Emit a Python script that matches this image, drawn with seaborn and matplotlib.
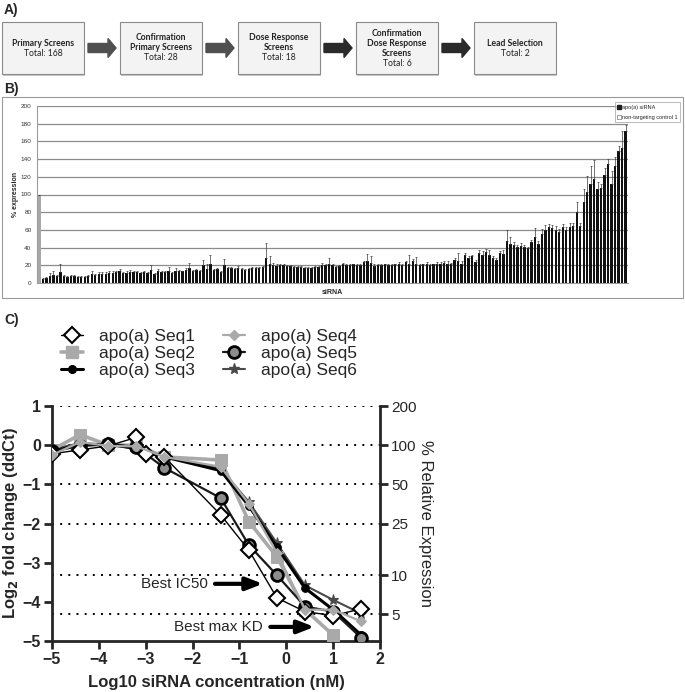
import numpy as np
import pandas as pd
import matplotlib
matplotlib.use('Agg')
import matplotlib.pyplot as plt
import seaborn as sns
from matplotlib.patches import Rectangle, FancyArrow
from matplotlib.lines import Line2D

# ---- panel A: screening funnel
stages = ['Primary Screens', 'Confirmation\nPrimary Screens', 'Dose Response\nScreens',
          'Confirmation\nDose Response\nScreens', 'Lead Selection']
stage_totals = [168, 28, 18, 6, 2]

# ---- panel B: primary screen, % expression
control_value = 100
sirna_values = [5, 6, 8, 9, 8, 12, 8, 7, 8, 8, 7, 7, 7, 8, 10, 9, 10, 10, 10, 11,
                11, 12, 13, 11, 11, 12, 12, 12, 11, 12, 11, 15, 10, 13, 12, 12, 14, 11, 14, 14,
                13, 15, 17, 14, 15, 13, 20, 16, 22, 15, 16, 12, 20, 17, 17, 16, 17, 16, 15, 16,
                17, 17, 17, 18,
                28, 22, 20, 19, 20, 20, 19, 19, 18, 18, 18, 17, 17, 17, 18, 18, 20, 20, 22, 20,
                18, 19,
                21, 20, 20, 21, 20, 20, 24, 25, 23, 19, 20, 20, 21, 20, 20, 21, 22, 20, 24, 21,
                25, 22, 20, 21, 22, 20, 21, 22, 22, 23, 22, 21, 26, 25, 22, 32, 28, 30, 24, 34,
                32, 35, 32, 28, 26, 34, 33,
                47, 44, 43, 41, 42, 41, 39, 46, 52, 44, 55, 60, 63, 62, 60, 58, 63, 60, 63, 64,
                80, 64, 92, 103, 112, 117, 106, 107, 122, 134, 112, 132, 149, 152, 172]
sirna_errors = [1, 1, 3, 4, 1, 9, 1, 1, 1, 1, 1, 1, 1, 1, 3, 1, 2, 2, 2, 2,
                2, 2, 3, 1, 2, 3, 2, 2, 1, 2, 1, 5, 1, 3, 1, 1, 4, 1, 3, 1,
                1, 2, 6, 1, 1, 2, 6, 5, 10, 1, 1, 2, 7, 1, 1, 1, 2, 1, 1, 1,
                1, 1, 1, 1,
                17, 8, 3, 3, 2, 1, 1, 1, 1, 1, 1, 1, 1, 1, 1, 1, 3, 2, 6, 1,
                1, 1,
                2, 2, 1, 1, 2, 1, 1, 8, 7, 3, 1, 1, 1, 2, 1, 1, 2, 2, 1, 11,
                2, 7, 2, 1, 2, 2, 1, 2, 2, 2, 3, 2, 2, 9, 3, 2, 3, 2, 2, 3,
                4, 3, 5, 3, 2, 2, 4,
                13, 8, 3, 2, 3, 2, 2, 3, 10, 3, 6, 5, 4, 3, 4, 3, 4, 3, 5, 4,
                12, 4, 14, 18, 20, 22, 8, 5, 8, 6, 15, 10, 6, 20, 6]

# ---- panel C: dose response, log2 fold change
log_conc = [-5, -4.4, -3.8, -3.2, -2.6, -1.4, -0.8, -0.2, 0.4, 1.0, 1.6]
seq1_x = [-5, -4.4, -3.8, -3.2, -3.0, -2.6, -1.4, -0.8, -0.2, 0.4, 1.0, 1.6]
seq1 = [-0.22, -0.12, -0.02, 0.2, -0.22, -0.3, -1.78, -2.68, -3.9, -4.25, -4.35, -4.18]
seq2 = [-0.12, 0.27, 0.0, 0.0, -0.3, -0.38, -1.95, -2.85, -4.2, -4.85]
seq3 = [-0.15, 0.0, 0.02, -0.08, -0.3, -0.65, -1.55, -2.6, -3.65, -4.2, -4.85]
seq4 = [-0.25, 0.08, -0.02, -0.03, -0.3, -0.55, -1.5, -2.75, -4.2, -4.2, -4.5]
seq5 = [-0.15, -0.02, 0.04, -0.05, -0.58, -1.35, -2.55, -3.32, -4.12, -4.25, -4.92]
seq6 = [-0.1, 0.05, 0.02, -0.1, -0.3, -0.6, -1.45, -2.5, -3.58, -3.95, -4.3]
rel_expr_ticks = [200, 100, 50, 25, 10, 5]

sns.set_style('white')
plt.rcParams['font.family'] = ['Liberation Sans', 'DejaVu Sans']

W, H = 685, 692
fig = plt.figure(figsize=(W / 100, H / 100), dpi=100)

# overlay in pixel coordinates for panel letters, flowchart and frame
ov = fig.add_axes([0, 0, 1, 1], zorder=-1)
ov.set_xlim(0, W)
ov.set_ylim(H, 0)
ov.axis('off')
for lab, y in [('A)', 10), ('B)', 89), ('C)', 320)]:
    ov.text(4, y, lab, fontsize=10, fontweight='bold', va='center', ha='left')

box_w, box_h, step, top = 82, 52, 118, 22
for i, (name, total) in enumerate(zip(stages, stage_totals)):
    x0 = 2 + i * step
    ov.add_patch(Rectangle((x0 + 1.5, top + 1.5), box_w, box_h, fc='#c8c8c8', ec='none'))
    ov.add_patch(Rectangle((x0, top), box_w, box_h, fc='#f3f3f3', ec='#8a8a8a', lw=0.8))
    lines = name.split('\n') + [f'Total: {total}']
    cy = top + box_h / 2
    for j, ln in enumerate(lines):
        yy = cy + (j - (len(lines) - 1) / 2) * 10
        ov.text(x0 + box_w / 2, yy, ln, ha='center', va='center', fontsize=6.2,
                family=['Lato', 'DejaVu Sans'],
                fontweight='bold' if j < len(lines) - 1 else 'normal', color='#222')
    if i < len(stages) - 1:
        col = '#505050' if i < 2 else '#2a2a2a'
        ov.add_patch(FancyArrow(x0 + box_w + 4, cy, step - box_w - 8, 0, width=9,
                                head_width=19, head_length=8, length_includes_head=True,
                                fc=col, ec=col))

# frame of panel B
ov.add_patch(Rectangle((2, 97), 681, 201, fc='none', ec='#9a9a9a', lw=0.8))

# ---- panel B
axb = fig.add_axes([37 / W, 1 - 283 / H, 591 / W, 177 / H])
axb.set_facecolor('none')
vals = [control_value] + sirna_values
errs = [0] + sirna_errors
df_b = pd.DataFrame({'pos': np.arange(len(vals)), 'value': vals,
                     'group': ['control'] + ['sirna'] * len(sirna_values)})
sns.barplot(data=df_b, x='pos', y='value', hue='group', dodge=False,
            palette={'control': '#a8a8a8', 'sirna': '#111111'}, width=0.68,
            edgecolor='none', linewidth=0, legend=False, ax=axb)
axb.errorbar(df_b['pos'], df_b['value'], yerr=[np.zeros(len(errs)), errs], fmt='none',
             ecolor='#3a3a3a', elinewidth=0.5, capsize=1.0, capthick=0.5)
axb.set_xlim(-0.7, len(vals) - 0.3)
axb.set_ylim(0, 200)
axb.set_yticks(np.arange(0, 201, 20))
axb.yaxis.grid(True, color='#8c8c8c', lw=0.9)
axb.set_axisbelow(True)
axb.set_xticks([])
axb.tick_params(axis='y', labelsize=4.6, colors='#333333', length=2, width=0.5, pad=2)
for s in ['top', 'right']:
    axb.spines[s].set_visible(False)
axb.spines['left'].set_color('#9c9c9c')
axb.spines['bottom'].set_color('#9c9c9c')
axb.set_ylabel('% expression', fontsize=5, fontweight='bold', labelpad=1)
axb.set_xlabel('siRNA', fontsize=5, fontweight='bold', labelpad=4)
leg_b = axb.legend(handles=[Line2D([], [], ls='none', marker='s', ms=2.5, color='#1e1e1e'),
                            Line2D([], [], ls='none', marker='s', ms=2.5, mfc='white', mec='#555555', mew=0.4)],
                   labels=['apo(a) siRNA', 'non-targeting control 1'], fontsize=4,
                   loc='upper right', bbox_to_anchor=(683 / W, 1 - 99 / H),
                   bbox_transform=fig.transFigure, frameon=True, fancybox=False,
                   handlelength=0.5, handletextpad=0.2, borderpad=0.5, labelspacing=0.9)
leg_b.get_frame().set_edgecolor('#9c9c9c')
leg_b.get_frame().set_linewidth(0.6)

# ---- panel C
axc = fig.add_axes([52 / W, 1 - 641 / H, 328 / W, 235 / H])
axc.set_facecolor('none')
ref_lines = [1, 0, -1, -2] + [float(np.log2(v / 100)) for v in [10, 5]]
for y in ref_lines:
    axc.axhline(y, color='black', lw=1.4, ls=(0, (1, 3.2)), zorder=1)

styles = [
    ('apo(a) Seq1', seq1_x, seq1, dict(color='black', lw=1.0, marker='D', ms=8.5,
                                       mfc='white', mec='black', mew=1.5), 6),
    ('apo(a) Seq2', log_conc[:10], seq2, dict(color='#a9a9a9', lw=2.6, marker='s', ms=9,
                                               mfc='#a9a9a9', mec='#a9a9a9'), 3),
    ('apo(a) Seq3', log_conc, seq3, dict(color='black', lw=2.2, marker='o', ms=5.5,
                                         mfc='black', mec='black'), 4),
    ('apo(a) Seq4', log_conc, seq4, dict(color='#a9a9a9', lw=1.6, marker='D', ms=5,
                                         mfc='#a9a9a9', mec='#a9a9a9'), 7),
    ('apo(a) Seq5', log_conc, seq5, dict(color='#1a1a1a', lw=1.6, marker='o', ms=8.5,
                                         mfc='#8c8c8c', mec='black', mew=2.0), 5),
    ('apo(a) Seq6', log_conc, seq6, dict(color='#4a4a4a', lw=1.5, marker='*', ms=8,
                                         mfc='#4a4a4a', mec='#4a4a4a'), 2),
]
handles = []
for label, xs, ys, kw, z in styles:
    sns.lineplot(x=xs, y=ys, ax=axc, zorder=z, sort=False, **kw)
    handles.append(Line2D([], [], **kw))
axc.set_xlim(-5, 2)
axc.set_ylim(-5, 1)
axc.set_xticks(range(-5, 3))
axc.set_yticks(range(-5, 2))
for lab in axc.get_xticklabels() + axc.get_yticklabels():
    lab.set_fontweight('bold')
axc.tick_params(axis='both', labelsize=11.5, length=6, width=2, direction='out',
                bottom=True, left=True, pad=2)
axc.spines['top'].set_visible(False)
axc.spines['right'].set_visible(False)
for s in ['left', 'bottom']:
    axc.spines[s].set_linewidth(2)
axc.set_xlabel('Log10 siRNA concentration (nM)', fontsize=12, fontweight='bold', labelpad=6)
axc.set_ylabel('Log$_\\mathbf{2}$ fold change (ddCt)', fontsize=12, fontweight='bold', labelpad=2)

ax2 = axc.twinx()
ax2.set_ylim(-5, 1)
ax2.set_yticks([np.log2(v / 100) for v in rel_expr_ticks])
ax2.set_yticklabels([str(v) for v in rel_expr_ticks])
ax2.tick_params(axis='y', labelsize=11, length=6, width=2, direction='out', right=True, pad=2)
for s in ['top', 'left', 'bottom']:
    ax2.spines[s].set_visible(False)
ax2.spines['right'].set_linewidth(2)
ax2.set_ylabel('% Relative Expression', fontsize=12, rotation=270, labelpad=12)

axc.annotate('Best IC50', xy=(-0.5, -3.54), xytext=(-1.68, -3.54), ha='right', va='center',
             fontsize=11, arrowprops=dict(arrowstyle='-|>,head_width=0.35,head_length=0.9',
                                          lw=3, color='black', shrinkA=3, shrinkB=0))
axc.annotate('Best max KD', xy=(0.6, -4.64), xytext=(-0.5, -4.64), ha='right', va='center',
             fontsize=11, arrowprops=dict(arrowstyle='-|>,head_width=0.35,head_length=0.9',
                                          lw=3, color='black', shrinkA=3, shrinkB=0))

fig.legend(handles=handles, labels=[s[0] for s in styles], ncol=2, loc='upper left',
           bbox_to_anchor=(45 / W, 1 - 313 / H), fontsize=12.5, frameon=False,
           handlelength=1.3, handletextpad=0.9, columnspacing=1.6, labelspacing=0.12)

fig.savefig('out.png', dpi=100)
